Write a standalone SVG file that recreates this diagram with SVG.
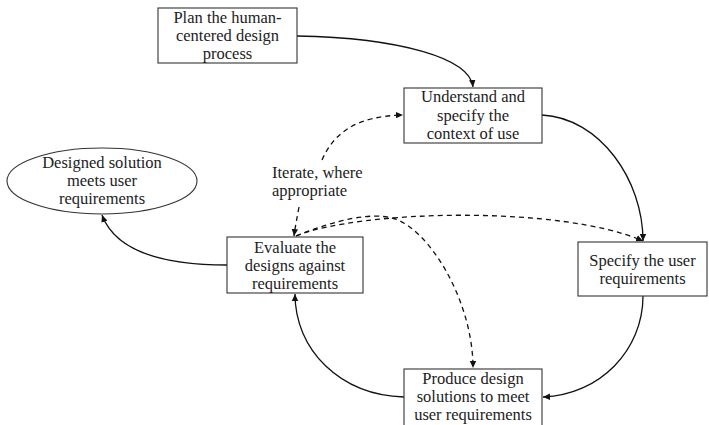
<svg xmlns="http://www.w3.org/2000/svg" width="709" height="425" viewBox="0 0 709 425">
  <style>
    .box { fill: #fff; stroke: #333; stroke-width: 1.1; }
    .lbl { font-family: "Liberation Serif", "Times New Roman", serif; font-size: 16.5px; fill: #222; text-anchor: middle; }
    .free { text-anchor: start; }
    .edge { fill: none; stroke: #111; stroke-width: 1.3; }
    .dash { stroke-dasharray: 5 4; }
  </style>
  <defs>
    <marker id="tip" markerUnits="userSpaceOnUse" markerWidth="10" markerHeight="10" refX="7" refY="4" orient="auto">
      <path d="M0,0.8 L7,4 L0,7.2 Z" fill="#111"/>
    </marker>
  </defs>
  <rect width="709" height="425" fill="#fff"/>

  <g id="edges">
    <path class="edge" d="M297,36 C400,38 470,58 473,87" marker-end="url(#tip)"/>
    <path class="edge" d="M542,115 C600,118 643,180 643,241" marker-end="url(#tip)"/>
    <path class="edge" d="M643,296 C643,350 600,395 543,397" marker-end="url(#tip)"/>
    <path class="edge" d="M404,397 C340,395 295,350 295,294" marker-end="url(#tip)"/>
    <path class="edge" d="M227,265 C160,265 115,250 102,215" marker-end="url(#tip)"/>
    <path class="edge dash" d="M322,160 C335,130 360,116 403,115" marker-end="url(#tip)"/>
    <path class="edge dash" d="M299,207 C297,218 295,228 294,236" marker-end="url(#tip)"/>
    <path class="edge dash" d="M296,236 C360,210 560,205 643,241" marker-end="url(#tip)"/>
    <path class="edge dash" d="M296,236 Q360,210 392,218 C428,227 473,300 473,368" marker-end="url(#tip)"/>
  </g>

  <g id="plan">
    <rect class="box" x="158" y="8" width="139" height="55"/>
    <text class="lbl" x="227.5" y="23">Plan the human-</text>
    <text class="lbl" x="227.5" y="41">centered design</text>
    <text class="lbl" x="227.5" y="59">process</text>
  </g>

  <g id="context">
    <rect class="box" x="404" y="88" width="138" height="55"/>
    <text class="lbl" x="473" y="102">Understand and</text>
    <text class="lbl" x="473" y="121">specify the</text>
    <text class="lbl" x="473" y="139">context of use</text>
  </g>

  <g id="requirements">
    <rect class="box" x="578" y="242" width="129" height="54"/>
    <text class="lbl" x="642.5" y="266">Specify the user</text>
    <text class="lbl" x="642.5" y="284">requirements</text>
  </g>

  <g id="produce">
    <rect class="box" x="404" y="369" width="138" height="60"/>
    <text class="lbl" x="473" y="384">Produce design</text>
    <text class="lbl" x="473" y="402">solutions to meet</text>
    <text class="lbl" x="473" y="420">user requirements</text>
  </g>

  <g id="evaluate">
    <rect class="box" x="227" y="237" width="136" height="56"/>
    <text class="lbl" x="295" y="253">Evaluate the</text>
    <text class="lbl" x="295" y="271">designs against</text>
    <text class="lbl" x="295" y="289">requirements</text>
  </g>

  <g id="solution">
    <ellipse class="box" cx="102" cy="181" rx="95" ry="33"/>
    <text class="lbl" x="102" y="168">Designed solution</text>
    <text class="lbl" x="102" y="186">meets user</text>
    <text class="lbl" x="102" y="204">requirements</text>
  </g>

  <g id="iterate">
    <text class="lbl free" x="272" y="178">Iterate, where</text>
    <text class="lbl free" x="272" y="196">appropriate</text>
  </g>
</svg>
